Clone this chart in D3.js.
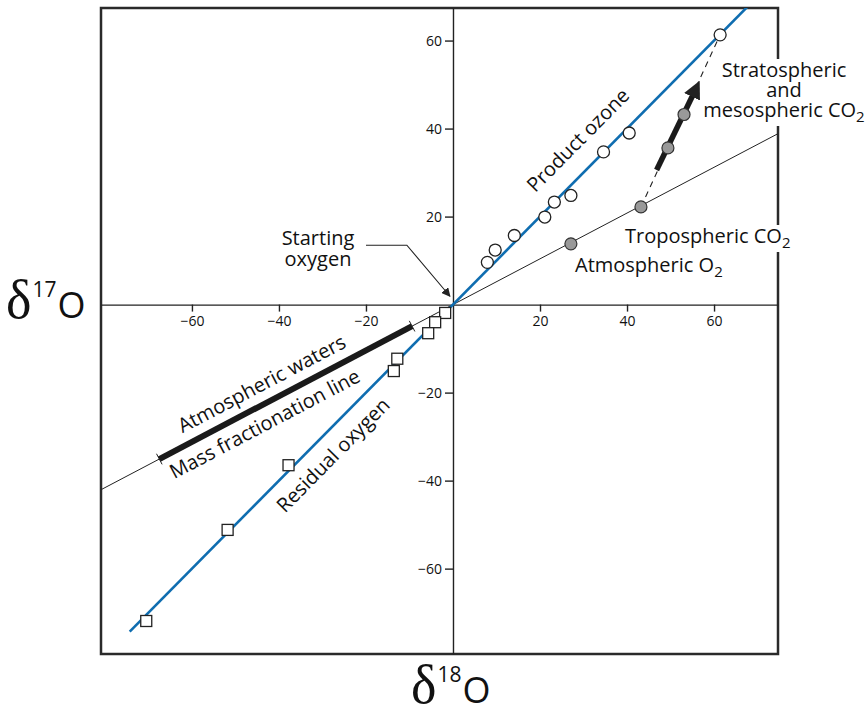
<!DOCTYPE html>
<html><head><meta charset="utf-8">
<script src="https://cdn.jsdelivr.net/npm/d3@7/dist/d3.min.js"></script>
<style>
body{margin:0;background:#fff;}
svg{display:block;font-family:"Open Sans",sans-serif;}
</style></head><body>
<svg id="c" width="868" height="708"></svg>
<script>
// ---- data ----
const xTicks = [-60, -40, -20, 20, 40, 60];
const yTicks = [-60, -40, -20, 20, 40, 60];
const productOzone = [[7.9,9.6],[9.7,12.4],[14.1,15.7],[21.1,19.9],[23.3,23.3],[27.1,24.8],[34.6,34.7],[40.5,39.0],[61.4,61.3]];
const residualOxygen = [[-1.8,-1.9],[-4.1,-4.0],[-5.7,-6.5],[-12.8,-12.3],[-13.6,-15.1],[-37.8,-36.5],[-51.8,-51.2],[-70.5,-71.9]];
const atmosphericO2 = [[27.1,13.8]];
const troposphericCO2 = [[43.2,22.2]];
const stratosphericCO2 = [[49.4,35.6],[53.1,43.2]];
const ozoneLine = [[-74.3,-74.3],[72,72]];          // slope-1 line
const massFracLine = [[-85,-44.2],[80,41.6]];        // slope 0.52
const atmWaters = [[-67.5,-35.1],[-9.4,-4.9]];
const stratArrow = [[46.8,30.6],[56,49.4]];
const dashedLink = [[43.2,22.2],[61.4,61.3]];
const startArrow = [[-20,13.5],[-10.6,13.5],[-0.7,1.9]];

// ---- layout ----
const L=101, R=778, T=8, B=654;
const x = d3.scaleLinear().domain([-80.9, 74.7]).range([L, R]);
const y = d3.scaleLinear().domain([67.4, -79.4]).range([T, B]);
const svg = d3.select("#c");
const blue = "#0f6db0";

svg.append("defs").append("clipPath").attr("id","clip")
  .append("rect").attr("x",L).attr("y",T).attr("width",R-L).attr("height",B-T);
const defs = svg.select("defs");
defs.append("marker").attr("id","ah").attr("viewBox","0 0 10 10").attr("refX",9).attr("refY",5)
  .attr("markerWidth",9).attr("markerHeight",9).attr("markerUnits","userSpaceOnUse").attr("orient","auto")
  .append("path").attr("d","M0,0L10,5L0,10z").attr("fill","#222");
defs.append("marker").attr("id","ah2").attr("viewBox","0 0 10 10").attr("refX",6).attr("refY",5)
  .attr("markerWidth",3.2).attr("markerHeight",3.2).attr("orient","auto")
  .append("path").attr("d","M0,0L10,5L0,10z").attr("fill","#222");

// frame
svg.append("rect").attr("x",L).attr("y",T).attr("width",R-L).attr("height",B-T)
  .attr("fill","none").attr("stroke","#2a2a2a").attr("stroke-width",2.5);

// axes
const xa = svg.append("g").attr("transform",`translate(0,${y(0)})`)
  .call(d3.axisBottom(x).tickValues(xTicks).tickSize(7).tickSizeOuter(0).tickPadding(4));
const ya = svg.append("g").attr("transform",`translate(${x(0)},0)`)
  .call(d3.axisLeft(y).tickValues(yTicks).tickSize(8).tickSizeOuter(0).tickPadding(3));
[xa,ya].forEach(a=>{
  a.selectAll("path,line").attr("stroke","#222").attr("stroke-width",1.4);
  a.selectAll("text").attr("font-size",14).attr("font-family","Open Sans, sans-serif").attr("fill","#111");
});

const line = d3.line().x(d=>x(d[0])).y(d=>y(d[1]));
const g = svg.append("g").attr("clip-path","url(#clip)");
g.append("path").attr("d",line(massFracLine)).attr("stroke","#222").attr("stroke-width",1).attr("fill","none");
g.append("path").attr("d",line(ozoneLine)).attr("stroke",blue).attr("stroke-width",2.6).attr("fill","none");
g.append("path").attr("d",line(atmWaters)).attr("stroke","#1a1a1a").attr("stroke-width",6).attr("fill","none");
// end ticks for atmospheric waters
const ang = Math.atan2(y(0.52)-y(0), x(1)-x(0));
atmWaters.forEach(p=>{
  const px=x(p[0]), py=y(p[1]);
  const nx=-Math.sin(ang), ny=Math.cos(ang);
  g.append("line").attr("x1",px-nx*6).attr("y1",py-ny*6).attr("x2",px+nx*6).attr("y2",py+ny*6)
    .attr("stroke","#222").attr("stroke-width",1);
});
g.append("path").attr("d",line(dashedLink)).attr("stroke","#222").attr("stroke-width",1.1)
  .attr("stroke-dasharray","6,5").attr("fill","none");
g.append("path").attr("d",line(stratArrow)).attr("stroke","#1a1a1a").attr("stroke-width",5.5)
  .attr("fill","none").attr("marker-end","url(#ah2)");
svg.append("path").attr("d",line(startArrow)).attr("stroke","#222").attr("stroke-width",1.1)
  .attr("fill","none").attr("marker-end","url(#ah)");

// markers
g.selectAll(".oz").data(productOzone).join("circle").attr("cx",d=>x(d[0])).attr("cy",d=>y(d[1])).attr("r",6)
  .attr("fill","#fff").attr("stroke","#222").attr("stroke-width",1.3);
g.selectAll(".ro").data(residualOxygen).join("rect").attr("x",d=>x(d[0])-5.5).attr("y",d=>y(d[1])-5.5)
  .attr("width",11).attr("height",11).attr("fill","#fff").attr("stroke","#222").attr("stroke-width",1.3);
g.selectAll(".gr").data([...atmosphericO2,...troposphericCO2,...stratosphericCO2]).join("circle")
  .attr("cx",d=>x(d[0])).attr("cy",d=>y(d[1])).attr("r",6)
  .attr("fill","#999").attr("stroke","#333").attr("stroke-width",1.2);

// labels
const FS=20, SUB=15;
function rotLabel(txt, px, py, deg){
  svg.append("text").attr("transform",`translate(${px},${py}) rotate(${deg})`)
    .attr("text-anchor","middle").attr("font-size",FS).attr("fill","#111").text(txt);
}
const a45 = Math.atan2(y(1)-y(0), x(1)-x(0))*180/Math.PI;
const aMf = Math.atan2(y(0.52)-y(0), x(1)-x(0))*180/Math.PI;
rotLabel("Product ozone", 583, 145, a45);
rotLabel("Residual oxygen", 338, 460, a45);
rotLabel("Atmospheric waters", 265, 390, aMf);
rotLabel("Mass fractionation line", 268, 430, aMf);

const bgLayer = svg.append("g");
// multi-line label (one text element, tspans per line)
function block(px, py, lines, lh){
  const t = svg.append("text").attr("text-anchor","middle").attr("font-size",FS).attr("fill","#111");
  lines.forEach((ln,i)=>{
    t.append("tspan").attr("x",px).attr("y",py+i*lh).text(ln[0]);
    if(ln[1]){ t.append("tspan").attr("font-size",SUB).attr("dy",5).text(ln[1]); }
  });
  return t;
}
function textWithSub(px, py, main, sub){
  const t = svg.append("text").attr("x",px).attr("y",py).attr("font-size",FS).attr("fill","#111");
  t.append("tspan").text(main);
  if(sub){ t.append("tspan").attr("font-size",SUB).attr("dy",5).text(sub); }
  return t;
}
// gap in the frame where a label crosses it
function frameGap(t){
  const b=t.node().getBBox();
  bgLayer.append("rect").attr("x",R-4).attr("y",b.y+3).attr("width",8).attr("height",b.height-3).attr("fill","#fff");
}
const strat = block(784, 77, [["Stratospheric"],["and"],["mesospheric CO","2"]], 20);
frameGap(strat);
const tc = textWithSub(625, 243, "Tropospheric CO", "2");
frameGap(tc);
textWithSub(575, 272, "Atmospheric O", "2");
block(318, 245, [["Starting"],["oxygen"]], 21);

// axis titles
function deltaTitle(px, py, iso){
  const t = svg.append("text").attr("x",px).attr("y",py).attr("fill","#111");
  t.append("tspan").attr("font-family","Liberation Serif, serif").attr("font-size",54).text("δ");
  t.append("tspan").attr("font-size",21).attr("dy",-21).attr("dx",1).text(iso);
  t.append("tspan").attr("font-size",36).attr("dy",21).attr("dx",1).text("O");
}
deltaTitle(6, 318, "17");
deltaTitle(411, 703, "18");
</script></body></html>
